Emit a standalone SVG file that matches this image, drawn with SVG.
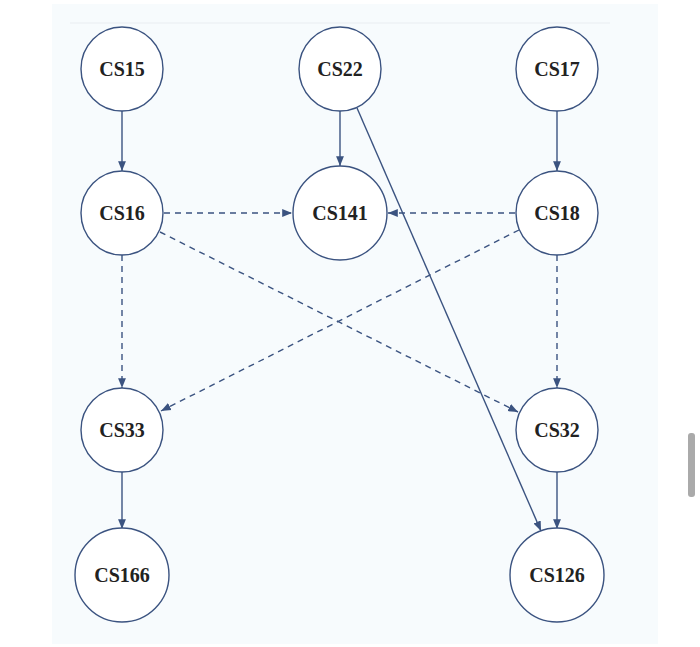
<svg xmlns="http://www.w3.org/2000/svg" width="700" height="647" viewBox="0 0 700 647">
<defs>
<style>
.n ellipse{fill:#fff;stroke:#3b5380;stroke-width:1.4}
.n text{font-family:"Liberation Serif",serif;font-weight:bold;font-size:20px;fill:#222;text-anchor:middle;dominant-baseline:central}
.e line{stroke:#3b5380;stroke-width:1.4;marker-end:url(#a)}
.e .d{stroke-dasharray:6 5}
</style>
<marker id="a" viewBox="0 0 10 10" refX="10" refY="5" markerWidth="7" markerHeight="7" orient="auto"><path d="M0,1 L10,5 L0,9 z" fill="#3b5380"/></marker>
</defs>
<rect x="0" y="0" width="700" height="647" fill="#fff"/>
<rect x="52" y="4" width="606" height="640" fill="#f7fbfd"/>
<line x1="70" y1="23" x2="610" y2="23" stroke="#eef2f5" stroke-width="1.5"/>
<rect x="688" y="433" width="7" height="64" rx="3" fill="#aaa"/>
<g class="e">
<line x1="122" y1="111" x2="122" y2="171"/>
<line x1="340" y1="111" x2="340" y2="166"/>
<line x1="557" y1="111" x2="557" y2="171"/>
<line x1="357" y1="108" x2="541" y2="531"/>
<line x1="557" y1="472" x2="557" y2="529"/>
<line x1="122" y1="472" x2="122" y2="529"/>
<line class="d" x1="164" y1="213" x2="292" y2="213"/>
<line class="d" x1="515" y1="213" x2="388" y2="213"/>
<line class="d" x1="122" y1="255" x2="122" y2="388"/>
<line class="d" x1="557" y1="255" x2="557" y2="388"/>
<line class="d" x1="160" y1="232" x2="518" y2="412"/>
<line class="d" x1="519" y1="230" x2="161" y2="411"/>
</g>
<g id="CS15" class="n"><ellipse cx="122" cy="69" rx="41" ry="42"/><text x="122" y="69">CS15</text></g>
<g id="CS22" class="n"><ellipse cx="340" cy="69" rx="41" ry="42"/><text x="340" y="69">CS22</text></g>
<g id="CS17" class="n"><ellipse cx="557" cy="69" rx="41" ry="42"/><text x="557" y="69">CS17</text></g>
<g id="CS16" class="n"><ellipse cx="122" cy="213" rx="41" ry="42"/><text x="122" y="213">CS16</text></g>
<g id="CS141" class="n"><ellipse cx="340" cy="213" rx="47" ry="47"/><text x="340" y="213">CS141</text></g>
<g id="CS18" class="n"><ellipse cx="557" cy="213" rx="41" ry="42"/><text x="557" y="213">CS18</text></g>
<g id="CS33" class="n"><ellipse cx="122" cy="430" rx="41" ry="42"/><text x="122" y="430">CS33</text></g>
<g id="CS32" class="n"><ellipse cx="557" cy="430" rx="41" ry="42"/><text x="557" y="430">CS32</text></g>
<g id="CS166" class="n"><ellipse cx="122" cy="575" rx="47" ry="47"/><text x="122" y="575">CS166</text></g>
<g id="CS126" class="n"><ellipse cx="557" cy="575" rx="47" ry="47"/><text x="557" y="575">CS126</text></g>
</svg>
